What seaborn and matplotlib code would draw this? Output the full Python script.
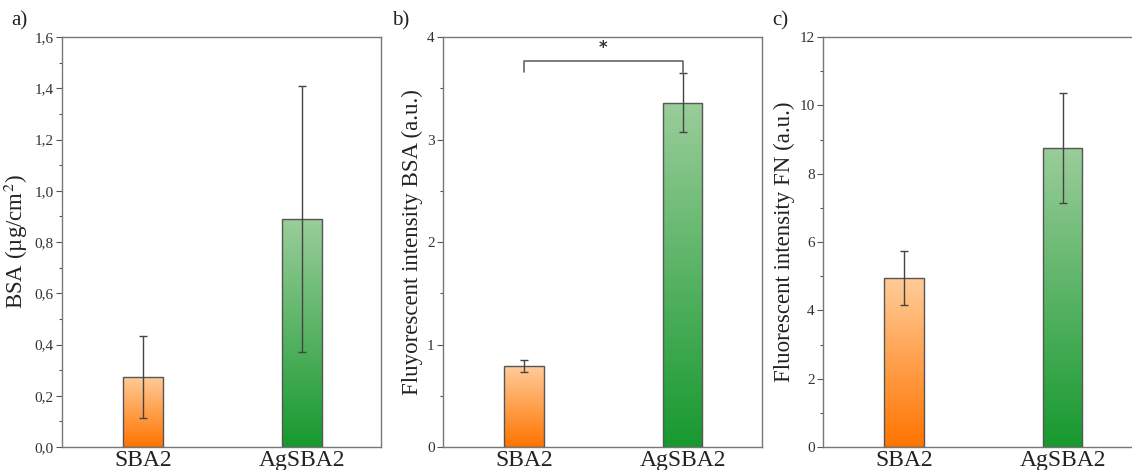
import numpy as np
import pandas as pd
import matplotlib.pyplot as plt
import seaborn as sns
from matplotlib.colors import LinearSegmentedColormap
from matplotlib.ticker import MultipleLocator, FuncFormatter

sns.set_style("white")
plt.rcParams['font.family'] = ['Liberation Serif', 'DejaVu Serif']
plt.rcParams['mathtext.fontset'] = 'stix'

# data
samples = ["SBA2", "AgSBA2"]
bsa_mean = [0.275, 0.89]
bsa_err = [0.16, 0.52]
fl_bsa_mean = [0.79, 3.36]
fl_bsa_err = [0.06, 0.29]
fl_fn_mean = [4.95, 8.75]
fl_fn_err = [0.80, 1.62]

panels = [
    ("a)", bsa_mean, bsa_err, "BSA (µg/cm$^2$)", (0, 1.6), 0.2, 0.1, True),
    ("b)", fl_bsa_mean, fl_bsa_err, "Fluyorescent intensity BSA (a.u.)", (0, 4), 1, 0.5, False),
    ("c)", fl_fn_mean, fl_fn_err, "Fluorescent intensity FN (a.u.)", (0, 12), 2, 1, False),
]

# bottom -> top gradients
orange = LinearSegmentedColormap.from_list("o", ["#ff7400", "#ffcc99"])
green = LinearSegmentedColormap.from_list("g", ["#17992f", "#9acd9a"])
cmaps = [orange, green]
edge = "#555555"

fig = plt.figure(figsize=(11.32, 4.70), dpi=100)
lefts = [0.0548, 0.3913, 0.7270]

for left, (tag, mean, err, ylabel, ylim, major, minor, comma) in zip(lefts, panels):
    ax = fig.add_axes([left, 0.049, 0.2818, 0.872])
    df = pd.DataFrame({"sample": samples, "value": mean})
    sns.barplot(data=df, x="sample", y="value", ax=ax, width=0.25,
                color="white", edgecolor=edge, linewidth=1.0)
    ax.errorbar(range(len(samples)), mean, yerr=err, fmt="none",
                ecolor="#444444", elinewidth=1.0, capsize=3, capthick=1.0, zorder=4)

    # gradient fill clipped to each bar
    for patch, cm in zip(ax.patches, cmaps):
        x0, y0 = patch.get_x(), patch.get_y()
        w, h = patch.get_width(), patch.get_height()
        grad = np.linspace(0, 1, 256).reshape(-1, 1)
        im = ax.imshow(grad, cmap=cm, origin="lower", aspect="auto",
                       extent=[x0, x0 + w, y0, y0 + h], zorder=2)
        im.set_clip_path(patch)
        patch.set_zorder(3)
        patch.set_facecolor("none")

    ax.set_xlim(-0.51, 1.5)
    ax.set_ylim(*ylim)
    ax.yaxis.set_major_locator(MultipleLocator(major))
    ax.yaxis.set_minor_locator(MultipleLocator(minor))
    if comma:
        ax.yaxis.set_major_formatter(FuncFormatter(lambda v, p: f"{v:.1f}".replace(".", ",")))
    ax.tick_params(axis="y", which="major", direction="out", length=4, width=0.8,
                   color=edge, labelsize=11, labelcolor="#333333", left=True, pad=2)
    ax.tick_params(axis="y", which="minor", direction="out", length=2, width=0.8,
                   color=edge, left=True)
    ax.tick_params(axis="x", length=0, labelsize=17, pad=2, labelcolor="#222222")
    ax.set_xlabel("")
    ax.set_ylabel(ylabel, fontsize=16.5, color="#222222", labelpad=3)
    for s in ax.spines.values():
        s.set_color("#777777")
        s.set_linewidth(1.0)
    if tag == "c)":
        ax.spines["right"].set_visible(False)
    ax.text(-0.16, 1.015, tag, transform=ax.transAxes, fontsize=15, color="#222222",
            ha="left", va="bottom")

    if tag == "b)":
        ax.plot([0, 0, 1, 1], [3.66, 3.77, 3.77, 3.65], color="#666666", lw=1.2, zorder=5)
        ax.text(0.5, 3.81, "*", ha="center", va="bottom", fontsize=12,
                fontweight="bold", family="DejaVu Sans", color="#333333")

fig.savefig("out.png", dpi=100)
